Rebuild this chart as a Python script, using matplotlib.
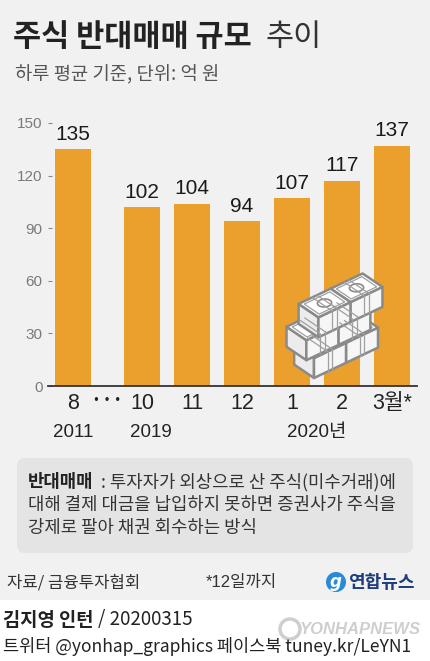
import numpy as np
import matplotlib.pyplot as plt
from matplotlib.patches import Rectangle, FancyBboxPatch, Polygon, Circle

# 데이터
months = ['8', '10', '11', '12', '1', '2', '3월*']
values = [135, 102, 104, 94, 107, 117, 137]
years = ['2011', '2019', '2020년']
yticks = [0, 30, 60, 90, 120, 150]

KR = 'Noto Sans CJK KR'
NUM = ['Liberation Sans', KR]

W, H = 430, 661
fig = plt.figure(figsize=(W / 100, H / 100), dpi=100)
fig.patch.set_facecolor('white')

# 배경 + 텍스트용 축 (픽셀 좌표)
bg = fig.add_axes([0, 0, 1, 1], zorder=0)
bg.set_xlim(0, W)
bg.set_ylim(H, 0)
bg.axis('off')
bg.add_patch(Rectangle((0, 0), W, 600, color='#f1f1f1', lw=0))
bg.add_patch(FancyBboxPatch((25, 466), 380, 79, boxstyle='round,pad=8',
                            color='#e4e4e4', lw=0))

bg.text(13, 37, '주식 반대매매 규모', fontsize=22, fontweight='bold',
        family=KR, color='#222222', va='center')
bg.text(265, 37, '추이', fontsize=22, family=KR, color='#333333', va='center')
bg.text(15, 75, '하루 평균 기준, 단위: 억 원', fontsize=13.5, family=KR,
        color='#555555', va='center')

# 막대 차트
ax = fig.add_axes([48 / W, (H - 386) / H, (417 - 48) / W, (386 - 123) / H], zorder=1)
ax.set_facecolor('none')
idx = np.arange(len(values))
x = idx + np.where(idx > 0, 0.38, 0.0)
ax.bar(x, values, width=0.72, color='#eba02d')
ax.set_xlim(-0.5, x[-1] + 0.5)
ax.set_ylim(0, 150)
for s in ['top', 'right', 'left']:
    ax.spines[s].set_visible(False)
ax.spines['bottom'].set_color('#333333')
ax.spines['bottom'].set_linewidth(1.3)

ax.set_yticks(yticks)
ax.tick_params(axis='y', direction='in', length=3, width=0.8, color='#888888',
               pad=4, labelsize=11, labelcolor='#7a7a7a')
for lbl in ax.get_yticklabels():
    lbl.set_fontfamily('Liberation Sans')

ax.set_xticks(x, months)
ax.tick_params(axis='x', length=0, pad=5, labelsize=15.5, labelcolor='#222222')
for lbl in ax.get_xticklabels():
    lbl.set_fontfamily(NUM)

for xi, v in zip(x, values):
    ax.annotate(str(v), (xi, v), xytext=(0, 4), textcoords='offset points',
                ha='center', va='bottom', fontsize=15, family='Liberation Sans',
                color='#1a1a1a')

year_at = [x[0], x[1] + 0.18, (x[4] + x[5]) / 2]
for xi, yr in zip(year_at, years):
    ax.text(xi, -0.175, yr, transform=ax.get_xaxis_transform(), ha='center',
            va='center', fontsize=13.5, family=NUM, color='#222222')

bg.text(107, 401, '• • •', fontsize=8.5, family='DejaVu Sans', color='#222222',
        ha='center', va='center')

# 돈 뭉치 아이콘
ic = fig.add_axes([0, 0, 1, 1], zorder=2)
ic.set_xlim(0, W)
ic.set_ylim(H, 0)
ic.axis('off')
cx, cy = 314, 378


def proj(X, Y, Z):
    return (cx + 0.8 * X - 0.62 * Y, cy - 0.38 * X - 0.42 * Y - Z)


def bundle(X0, Y0, Z0, L=40, D=32, Hh=20):
    ec = '#8a8a8a'
    faces = [
        ([(X0, Y0, Z0), (X0, Y0 + D, Z0), (X0, Y0 + D, Z0 + Hh), (X0, Y0, Z0 + Hh)], '#ececec'),
        ([(X0, Y0, Z0), (X0 + L, Y0, Z0), (X0 + L, Y0, Z0 + Hh), (X0, Y0, Z0 + Hh)], '#f6f6f6'),
        ([(X0, Y0, Z0 + Hh), (X0 + L, Y0, Z0 + Hh), (X0 + L, Y0 + D, Z0 + Hh), (X0, Y0 + D, Z0 + Hh)], 'white'),
    ]
    for pts, fc in faces:
        ic.add_patch(Polygon([proj(*p) for p in pts], closed=True, fc=fc, ec=ec,
                             lw=1.8, joinstyle='round'))
    # 지폐 테두리
    m = 4
    inner = [(X0 + m, Y0 + m, Z0 + Hh), (X0 + L - m, Y0 + m, Z0 + Hh),
             (X0 + L - m, Y0 + D - m, Z0 + Hh), (X0 + m, Y0 + D - m, Z0 + Hh)]
    ic.add_patch(Polygon([proj(*p) for p in inner], closed=True, fill=False,
                         ec='#a0a0a0', lw=0.9))
    t = np.linspace(0, 2 * np.pi, 40)
    r = 7
    circ = [proj(X0 + L / 2 + r * np.cos(a), Y0 + D / 2 + r * np.sin(a), Z0 + Hh) for a in t]
    ic.add_patch(Polygon(circ, closed=True, fill=False, ec='#8a8a8a', lw=1.2))
    # 띠
    for dx in (-3, 3):
        xs = X0 + L / 2 + dx
        ic.plot(*zip(proj(xs, Y0, Z0 + Hh), proj(xs, Y0 + D, Z0 + Hh)), color='#a0a0a0', lw=0.9)
        ic.plot(*zip(proj(xs, Y0, Z0), proj(xs, Y0, Z0 + Hh)), color='#a0a0a0', lw=0.9)


L = 40
stack = [(L, 0, 0), (0, 0, 0), (L - 8, 2, 20), (-8, 2, 20), (L + 4, -2, 40), (4, -2, 40)]
for X0, Y0, Z0 in stack:
    bundle(X0, Y0, Z0)

# 설명 박스
bg.text(28, 482, '반대매매', fontsize=12.8, fontweight='bold', family=KR,
        color='#222222', va='center')
bg.text(101, 482, ': 투자자가 외상으로 산 주식(미수거래)에', fontsize=12.8, family=KR,
        color='#333333', va='center')
bg.text(28, 505, '대해 결제 대금을 납입하지 못하면 증권사가 주식을', fontsize=12.8,
        family=KR, color='#333333', va='center')
bg.text(28, 528, '강제로 팔아 채권 회수하는 방식', fontsize=12.8, family=KR,
        color='#333333', va='center')

# 출처
bg.text(7, 583, '자료/ 금융투자협회', fontsize=12, family=KR, color='#333333',
        va='center')
bg.text(241, 583, '*12일까지', fontsize=12, family=NUM, color='#333333',
        va='center', ha='center')
bg.add_patch(Circle((336, 582), 10, color='#2a8ad6', lw=0))
bg.text(336, 582, 'g', fontsize=12, fontstyle='italic', fontweight='bold',
        family='DejaVu Sans', color='white', ha='center', va='center')
bg.text(348, 582, '연합뉴스', fontsize=13, fontweight='bold', family=KR,
        color='#1d3d7e', va='center')

# 하단
bg.text(300, 630, 'YONHAPNEWS', fontsize=12, fontweight='bold', fontstyle='italic',
        family='Liberation Sans', color='#c9c9c9', va='center', alpha=0.9)
bg.add_patch(Circle((290, 629), 10, fc='none', ec='#cfcfcf', lw=2.5))
bg.text(3, 620, '김지영 인턴', fontsize=13.5, fontweight='bold', family=KR,
        color='#222222', va='center')
bg.text(98, 620, '/ 20200315', fontsize=13.5, family=KR, color='#222222',
        va='center')
bg.text(3, 647, '트위터 @yonhap_graphics 페이스북 tuney.kr/LeYN1', fontsize=12.6,
        family=KR, color='#222222', va='center')

fig.savefig('out.png', dpi=100, facecolor=fig.get_facecolor())
